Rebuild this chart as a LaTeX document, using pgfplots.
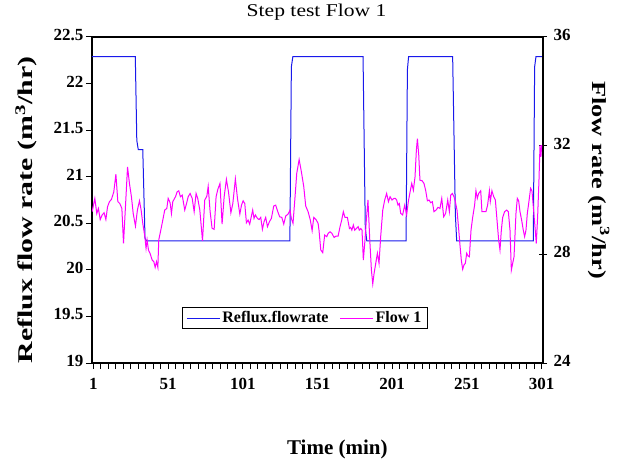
\documentclass[border=0pt]{standalone}
\usepackage{pgfplots}
\pgfplotsset{compat=1.18}
\usepackage{fontspec}
\setmainfont{Liberation Serif}
\definecolor{refluxblue}{RGB}{25,25,235}
\definecolor{flowmag}{RGB}{255,0,255}

\pgfplotstableread{
t v
0 22.29
29 22.29
30 21.39
31 21.29
34 21.29
35.5 20.34
36.5 20.31
132.5 20.31
133.5 22.18
134.5 22.29
181.5 22.29
183 20.45
184 20.31
210.3 20.31
211.2 22.15
212 22.29
241.5 22.29
243.3 20.6
244.2 20.31
295.5 20.31
296.4 22.18
297.3 22.29
301.3 22.29
}\reflux

\pgfplotstableread{
t v
0.1 29.57
1.9 30.06
3.2 29.5
4.3 29.69
5.5 29.28
6.8 29.45
8.1 29.53
9.3 29.28
10.4 29.75
11.7 29.94
13.0 30.02
14.6 30.3
16 30.95
17.3 29.94
18.6 29.87
20 29.69
21.1 28.4
22.4 29.75
23.8 31.22
25.1 30.6
26.4 30.12
27.6 29.5
29.1 29.04
30.4 29.63
31.8 29.97
32.9 29.63
34 29.14
35.4 28.65
36.2 28.22
36.9 28.53
37.8 28.16
38.9 28.03
40.3 27.79
41.4 27.73
42.3 27.52
43.2 27.73
44.1 27.52
44.7 28.53
46.1 28.9
47.4 29.26
48.7 29.63
50.1 29.69
51 30.06
52.3 29.9
53.2 29.5
54.1 29.94
55.9 30.12
57 30.3
58.1 30.34
59.2 30.12
60.4 30.18
62.1 29.63
63.3 29.87
64.4 30.12
65.7 30.24
67.1 30.06
68.4 29.57
69.7 30.24
70.8 30.06
72.2 29.63
74 28.5
75.5 30.0
76.9 30.14
77.8 30.5
79.1 29.57
80.4 28.96
81.8 28.92
83.1 30.12
84.3 30.4
85.7 30.61
87.1 29.11
88.5 30.12
90 30.76
91.4 30.3
93 29.53
94.3 29.87
96 30.78
97.4 30.06
99 29.48
100.1 29.81
101.2 29.97
102.3 29.87
103.4 29.16
104.5 29.26
105.6 29.11
107.6 29.63
108.5 29.32
109.4 29.45
110.8 29.32
111.9 29.28
113 29.36
114.1 28.92
115.2 29.2
116.3 29.36
117.5 29.02
118.8 29.2
120.1 29.32
121.7 29.78
123 29.81
124.4 29.57
125.7 29.38
127.1 29.36
128.4 29.11
129.7 29.41
131.3 29.48
132.6 29.63
133.5 29.32
134.6 29.14
135.8 30.0
137.1 30.98
138.7 31.49
140.2 31.04
141.8 30.49
143.1 29.78
144.7 29.57
146.2 29.26
147.4 28.87
148.5 29.36
150 29.28
151.4 29.14
152 28.89
153.2 28.16
154.5 28.06
155.8 28.71
157.2 28.65
158.1 28.77
159.4 28.83
160.7 28.77
162.1 28.62
163.4 28.67
164.8 28.67
166.1 29.02
167.2 29.26
168.3 29.57
169.4 29.36
171 29.36
172.4 28.95
173.2 28.99
174 28.89
175 29.08
175.9 28.89
177 28.95
178.2 29.02
179 28.89
180 28.95
180.8 28.89
181.7 27.79
182.8 28.53
183.7 29.26
184.8 30.0
186 28.53
187.1 27.42
188 26.91
188.9 27.3
190 27.67
191.1 28.04
192.2 27.67
193.3 28.65
194.7 29.63
196 30.0
197.3 30.24
198.5 29.94
199.6 30.12
200.9 30.0
202.2 30.06
203.1 30.06
204 30.0
204.9 29.81
205.8 29.87
206.7 29.51
208 29.45
209.4 29.81
210.7 29.45
211.8 29.94
213 30.3
214.1 30.61
215.2 30.36
216.3 30.85
217.2 31.83
217.9 32.26
218.8 31.65
219.6 30.73
221 30.71
222.3 30.61
223.4 30.36
224.6 29.97
225.7 30.0
226.8 29.9
227.9 29.94
229 29.57
230.4 29.63
231.7 29.73
233 29.69
234.2 30.06
235.5 29.38
236.8 29.51
238.2 30.0
239.3 29.57
240.2 30.18
241.3 30.24
242.4 30.12
243.3 29.94
244.4 29.63
245.5 28.95
246.4 28.34
247.3 27.79
248.2 27.45
249.1 27.61
250 27.67
250.9 28.04
251.8 27.94
252.7 27.91
253.8 28.89
254.9 29.36
256.2 29.81
257.1 30.34
258 30.06
258.9 30.24
260.3 30.34
261.1 29.57
262.5 29.57
263.8 29.57
264.9 29.81
266.1 30.34
266.7 29.94
267.8 30.34
269 30.12
270.1 30.0
271.2 29.26
272.3 28.53
273.2 28.16
274.1 28.89
275 29.36
276.3 29.57
277.7 29.63
278.8 29.57
279.9 28.89
280.8 27.42
281.7 27.67
282.6 27.91
283.9 29.51
284.8 30.06
285.7 29.97
286.6 29.57
287.7 29.26
288.8 28.89
289.7 28.65
290.6 28.89
291.5 29.51
292.4 29.87
293.7 30.43
294.6 30.34
295.7 29.63
296.8 28.89
297.5 28.4
298.4 29.38
299.3 30.73
300 32.02
300.6 31.59
301.1 32.02
}\flowone

\begin{document}
\begin{tikzpicture}
\useasboundingbox (-92pt,-98pt) rectangle (526pt,363pt);
\pgfplotsset{
  every axis/.append style={
    scale only axis, width=451pt, height=326pt,
    xmin=0, xmax=302,
    axis line style={line width=1.2pt, black},
    /pgf/number format/assume math mode=true,
    tick label style={font=\bfseries\fontsize{17}{17}\selectfont},
  },
}
\begin{axis}[
  at={(0pt,0pt)}, anchor=south west,
  ymin=19, ymax=22.5,
  ytick={19,19.5,20,20.5,21,21.5,22,22.5},
  xtick={1,51,101,151,201,251,301},
  minor xtick={6,11,...,296},
  xtick pos=bottom, ytick pos=left,
  tick align=outside,
  major tick length=6pt, minor tick length=6pt,
  every tick/.style={black, line width=1pt},
  every minor tick/.style={black, line width=1pt},
  xticklabel style={yshift=-6pt},
  yticklabel style={yshift=2pt, xshift=1pt},
  title={Step test Flow 1},
  title style={at={(axis description cs:0.498,1.058)}, anchor=center,
    font=\fontsize{18}{18}\selectfont, xscale=1.2},
  xlabel={Time (min)},
  xlabel style={at={(axis description cs:0.544,-0.264)}, anchor=center,
    font=\bfseries\fontsize{21}{21}\selectfont},
  ylabel={Reflux flow rate (m\textsuperscript{3}/hr)},
  ylabel style={at={(axis description cs:-0.146,0.469)}, anchor=center,
    font=\bfseries\fontsize{21}{21}\selectfont, xscale=1.42},
  legend columns=2,
  legend style={at={(axis description cs:0.472,0.138)}, anchor=center,
    draw=black, line width=0.8pt, inner xsep=4pt, inner ysep=2pt,
    font=\bfseries\fontsize{16}{16}\selectfont,
    /tikz/every even column/.append style={column sep=9pt}},
  legend image code/.code={\draw[#1, line width=1pt] (0pt,0pt) -- (33pt,0pt);},
]
\addplot[refluxblue, line width=1pt] table[x=t, y=v] {\reflux};
\addlegendentry{Reflux.flowrate}
\addlegendimage{flowmag, line width=1pt}
\addlegendentry{Flow 1}
\end{axis}
\begin{axis}[
  at={(0pt,0pt)}, anchor=south west,
  ymin=24, ymax=36,
  ytick={24,28,32,36},
  axis x line=none, axis y line*=right,
  tick align=center,
  major tick length=8pt,
  every tick/.style={black, line width=1pt},
  yticklabel style={xshift=3pt, yshift=2pt},
  ylabel={Flow rate (m\textsuperscript{3}/hr)},
  ylabel style={at={(axis description cs:1.124,0.561)}, anchor=center,
    rotate=180, font=\bfseries\fontsize{20}{20}\selectfont, xscale=1.32},
]
\addplot[flowmag, line width=1pt] table[x=t, y=v] {\flowone};
\end{axis}
\end{tikzpicture}
\end{document}
